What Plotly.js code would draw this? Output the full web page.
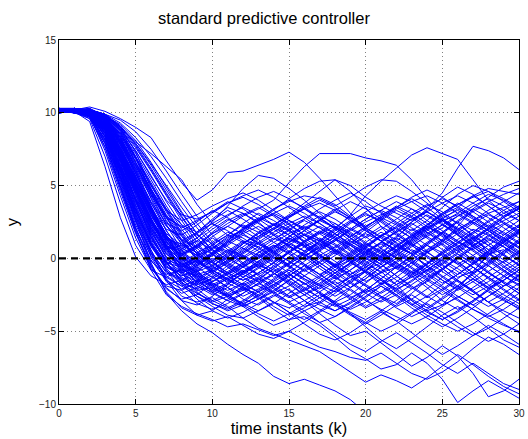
<!DOCTYPE html>
<html>
<head>
<meta charset="utf-8">
<script src="https://cdn.plot.ly/plotly-3.0.1.min.js"></script>
<style>html,body{margin:0;padding:0;background:#fff}#chart{width:528px;height:439px}</style>
</head>
<body>
<div id="chart"></div>
<script>
// time instants
const k = [0,1,2,3,4,5,6,7,8,9,10,11,12,13,14,15,16,17,18,19,20,21,22,23,24,25,26,27,28,29,30];
// reference level
const refX = [0, 30];
const refY = [0, 0];
const xTicks = [0,5,10,15,20,25,30];
const yTicks = [-10,-5,0,5,10,15];

// trajectories that climb high after the transient
const upperRuns = [
 [10.1,10.2,10.0,9.2,7.0,4.6,2.4,0.9,0.3,0.8,1.7,2.2,2.9,3.4,4.0,5.2,6.3,7.2,7.2,7.2,6.9,6.7,6.4,5.4,4.1,2.8,1.6,0.9,1.5,2.3,2.9],
 [10.2,10.3,9.9,8.8,6.1,3.3,1.0,-0.6,-1.2,-0.9,-0.1,0.6,0.2,-0.5,-0.9,-0.3,0.5,1.2,2.0,3.0,4.3,5.3,6.2,7.1,7.6,7.2,6.8,5.4,4.0,3.1,2.6],
 [10.0,10.1,10.2,9.5,7.3,4.8,2.5,0.7,-0.5,-1.1,-0.8,0.1,1.0,1.8,2.4,2.0,1.1,0.2,-0.6,-1.3,-0.9,0.2,1.4,2.5,3.4,4.5,6.2,7.7,7.4,6.9,6.1],
 [10.3,10.2,10.4,10.1,9.6,9.0,8.3,6.7,5.2,4.0,4.7,5.9,6.0,6.4,6.8,7.3,6.6,5.5,4.3,3.1,2.0,1.2,0.6,1.3,2.2,3.0,2.4,1.5,0.4,-0.5,-1.2],
 [10.1,10.3,10.2,9.9,9.0,8.0,7.2,6.3,5.4,3.7,2.4,1.6,1.1,1.5,2.3,3.0,3.8,4.6,5.4,5.0,4.2,3.6,3.1,2.6,3.3,4.2,4.9,4.4,3.6,2.9,3.4],
 [10.2,10.0,10.1,9.3,7.2,4.9,2.6,1.0,0.6,1.4,2.5,3.6,4.8,5.7,5.5,4.8,4.0,3.1,2.2,1.4,0.6,0.1,-0.5,-1.1,-0.4,0.5,1.3,2.0,1.6,0.8,0.2],
 [10.0,10.2,10.1,9.7,8.3,5.9,3.4,1.3,0.1,-0.4,0.2,1.1,1.9,2.6,3.3,4.1,4.8,5.3,5.4,4.6,3.5,2.2,1.0,0.3,-0.6,-1.5,-2.1,-1.4,-0.5,0.3,1.1],
 [10.3,10.1,10.2,9.0,6.4,3.6,1.2,-0.4,-1.0,-0.6,0.3,1.2,2.0,2.7,3.4,3.9,4.3,4.1,3.6,4.2,4.9,5.4,5.3,4.6,3.8,3.0,3.5,4.3,4.8,4.6,4.4],
 [10.1,10.2,9.8,8.2,5.3,2.3,0.2,-1.3,-1.9,-1.5,-0.6,0.4,1.1,0.8,0.1,-0.4,0.3,1.2,2.1,2.9,3.6,3.2,2.5,1.9,2.6,3.5,4.4,5.0,4.6,3.9,3.2],
 [10.2,10.3,10.1,9.6,8.2,5.9,3.5,1.6,0.4,0.9,1.8,2.6,3.1,2.5,1.6,0.8,0.2,0.7,1.5,2.4,3.0,2.6,1.8,1.0,0.4,1.1,2.2,3.4,4.2,4.9,5.3],
 [10.2,10.3,10.1,9.3,7.1,4.5,2.0,0.6,0.9,1.7,2.4,3.0,3.5,3.0,2.3,2.9,3.6,4.2,3.7,2.9,2.2,2.8,3.5,4.1,3.5,2.7,2.0,2.6,3.3,3.9,4.5],
 [10.1,10.0,10.2,9.9,8.9,7.0,4.6,2.5,1.2,1.8,2.6,3.3,2.7,2.0,1.3,1.9,2.7,3.4,4.0,4.5,3.9,3.1,2.4,1.7,2.3,3.0,3.7,4.3,3.6,2.8,2.1],
 [10.3,10.2,10.0,8.7,6.0,3.1,0.9,-0.4,0.2,0.9,1.7,2.4,3.0,3.5,2.9,2.1,1.4,0.7,1.3,2.0,2.7,3.3,3.9,3.4,2.6,1.9,1.2,0.6,1.2,1.9,2.6],
 [10.2,10.1,10.2,9.6,8.0,5.7,3.3,1.5,0.7,1.2,0.6,-0.1,0.5,1.3,2.0,2.8,3.4,2.8,2.0,1.2,0.5,-0.1,0.6,1.4,2.3,3.1,3.8,3.2,2.5,1.7,1.0]
];

// trajectories that drift low
const lowerRuns = [
 [10.1,10.3,10.0,8.4,5.6,2.6,-0.3,-2.4,-3.6,-4.5,-5.1,-5.9,-6.6,-7.2,-8.1,-8.6,-8.3,-8.7,-9.1,-9.7,-10.6,-11.3,-11.0,-11.8,-12.1,-11.6,-12.4,-12.9,-12.5,-13.1,-13.4],
 [10.2,10.0,9.8,7.9,4.9,1.9,-0.8,-2.5,-3.3,-3.8,-4.2,-4.7,-4.5,-4.9,-5.3,-5.0,-5.6,-6.1,-6.4,-6.8,-7.0,-6.5,-7.2,-7.9,-8.3,-7.8,-7.1,-6.2,-5.4,-5.9,-6.6],
 [10.1,10.0,10.2,8.9,6.0,3.0,0.6,-1.4,-2.6,-3.0,-2.7,-3.3,-4.1,-4.8,-5.2,-5.6,-6.0,-6.4,-7.1,-7.8,-8.5,-8.0,-8.4,-8.9,-8.2,-7.4,-6.6,-7.3,-8.1,-8.8,-9.3],
 [10.3,10.2,10.0,9.1,6.8,4.0,1.5,-0.3,-1.5,-2.2,-2.0,-1.4,-1.9,-2.7,-3.5,-4.2,-4.0,-4.6,-5.4,-6.3,-6.9,-7.6,-7.3,-6.5,-7.2,-8.3,-9.9,-9.1,-8.4,-9.0,-9.6],
 [10.2,10.1,10.3,9.4,7.1,4.4,1.9,0.0,-1.1,-1.6,-1.2,-2.0,-2.8,-3.2,-2.6,-2.1,-2.9,-3.8,-4.6,-5.3,-5.0,-5.8,-6.6,-7.4,-6.8,-6.0,-6.7,-7.9,-9.5,-9.1,-8.3],
 [10.0,10.2,9.7,7.6,4.6,1.7,-0.6,-2.1,-2.8,-2.5,-1.7,-2.4,-3.3,-4.0,-4.6,-4.2,-3.6,-4.4,-5.2,-5.9,-6.4,-5.7,-5.1,-5.8,-6.5,-7.3,-7.9,-7.2,-7.9,-8.6,-9.0],
 [10.2,10.3,10.0,8.6,5.8,2.9,0.4,-1.5,-2.9,-3.9,-4.3,-4.0,-4.6,-5.2,-5.5,-5.0,-4.4,-3.7,-3.1,-3.8,-4.7,-5.6,-6.2,-5.5,-4.7,-3.9,-3.3,-4.0,-4.8,-5.6,-6.1],
 [10.1,10.2,10.1,9.2,6.9,4.1,1.6,-0.2,-1.6,-2.6,-3.3,-3.9,-4.1,-3.6,-3.0,-3.7,-4.5,-5.2,-5.6,-5.1,-4.4,-3.7,-4.3,-5.1,-5.9,-6.6,-6.0,-5.3,-4.6,-5.2,-5.9],
 [10.0,10.1,10.0,8.6,5.7,2.8,0.5,-1.0,-1.5,-1.1,-1.8,-2.5,-3.1,-3.6,-3.1,-2.4,-1.7,-2.4,-3.2,-3.9,-4.5,-3.9,-3.2,-2.5,-3.2,-4.0,-4.7,-5.3,-4.8,-4.1,-3.4],
 [10.3,10.1,9.9,8.4,5.5,2.6,0.3,-1.2,-1.9,-2.6,-3.1,-3.5,-3.0,-2.3,-1.6,-2.2,-2.9,-3.5,-4.0,-3.4,-2.7,-1.9,-2.6,-3.4,-4.1,-4.7,-4.1,-3.4,-2.6,-1.9,-1.2],
 [10.2,10.3,10.0,8.8,6.2,3.3,0.9,-0.8,-1.8,-2.4,-2.9,-2.4,-1.7,-2.3,-3.0,-3.7,-4.2,-3.6,-2.9,-2.1,-2.8,-3.6,-4.3,-3.7,-3.0,-2.2,-1.5,-2.2,-3.0,-3.8,-4.5]
];

// trajectories that stay near the reference
const middleRuns = [
 [10.2,10.1,9.4,6.3,2.8,0.1,-1.2,-1.8,-1.5,-0.8,-0.2,0.5,1.2,1.0,0.3,-0.6,-1.4,-1.9,-1.2,-0.3,0.8,1.6,2.1,1.4,0.5,-0.4,-1.3,-0.9,0.2,1.1,1.8],
 [10.3,10.2,9.9,8.1,5.2,2.1,-0.4,-2.3,-3.4,-3.9,-3.6,-2.8,-1.9,-1.4,-1.8,-2.6,-3.3,-3.0,-2.2,-1.1,-0.4,-0.9,-1.8,-2.9,-3.6,-3.2,-2.1,-0.9,0.3,0.6,-0.2],
 [10.2,10.1,9.6,7.0,3.8,0.9,-0.8,-1.3,-0.7,0.2,0.9,0.5,-0.3,-1.1,-1.6,-1.0,-0.2,0.6,1.3,0.9,0.1,-0.7,-1.5,-2.1,-1.6,-0.8,0.1,0.9,1.4,0.8,-0.1],
 [10.3,10.2,10.0,8.0,5.0,2.0,-0.2,-1.1,-0.8,-0.1,0.7,1.5,1.9,1.3,0.4,-0.5,-1.2,-1.8,-2.3,-1.7,-0.9,0.0,0.8,1.6,2.2,1.7,0.8,-0.2,-1.0,-1.6,-2.2],
 [10.1,10.3,10.1,8.9,6.1,3.2,1.0,-0.3,-0.6,-0.2,-0.9,-1.7,-2.2,-1.8,-1.1,-0.3,0.4,1.0,0.6,-0.2,-1.0,-1.8,-1.3,-0.5,0.4,1.2,1.9,2.5,1.9,1.1,0.4],
 [10.0,10.1,10.2,9.5,7.7,5.0,2.3,0.5,-0.4,-0.9,-0.5,0.2,1.0,1.7,2.3,1.9,1.1,0.3,-0.5,-1.2,-1.9,-2.6,-3.1,-2.4,-1.5,-0.7,0.1,-0.6,-1.4,-2.2,-2.9],
 [10.2,10.0,9.9,8.5,5.6,2.7,0.4,-0.9,-1.4,-1.9,-2.3,-1.8,-1.0,-0.2,0.5,1.1,1.6,1.2,0.4,-0.3,0.3,1.1,1.9,2.7,3.2,2.6,1.7,0.8,0.0,-0.8,-1.5],
 [10.3,10.2,10.1,9.2,6.6,3.7,1.3,-0.1,-0.5,0.1,0.8,0.4,-0.4,-1.2,-2.0,-2.6,-2.1,-1.3,-0.6,0.2,0.9,1.6,1.1,0.3,-0.5,-1.3,-2.0,-2.7,-3.3,-2.8,-2.0],
 [10.1,10.2,10.3,9.8,8.7,6.6,4.1,1.9,0.5,-0.3,-0.7,-0.2,0.6,1.4,2.0,2.6,2.1,1.3,0.6,-0.1,-0.8,-0.3,0.5,1.3,2.1,2.8,3.3,2.7,1.9,1.2,0.5],
 [10.2,10.3,10.0,8.3,5.4,2.5,0.1,-1.6,-2.4,-2.0,-1.3,-0.5,0.2,-0.3,-1.0,-1.7,-2.5,-3.2,-3.6,-3.0,-2.2,-1.4,-0.6,-1.2,-2.0,-2.9,-3.5,-2.9,-2.1,-1.3,-0.6],
 [10.0,10.2,10.1,9.4,7.5,4.9,2.6,0.8,-0.2,0.3,1.1,1.8,1.4,0.7,0.0,-0.6,0.1,0.9,1.7,2.5,3.1,2.5,1.7,0.9,0.2,-0.5,-1.1,-0.4,0.5,1.4,2.2],
 [10.3,10.1,10.2,9.6,7.9,5.5,3.0,1.1,0.0,-0.6,-1.3,-2.0,-2.6,-2.1,-1.4,-0.8,-1.5,-2.3,-3.0,-2.5,-1.7,-0.9,-0.2,0.6,0.1,-0.7,-1.5,-2.3,-3.0,-3.6,-4.1],
 [10.2,10.2,10.0,9.0,6.5,3.5,1.0,-0.7,-1.7,-2.1,-1.6,-0.9,-0.3,0.4,0.9,0.4,-0.4,-1.1,-0.5,0.3,1.0,0.5,-0.3,-1.0,-1.8,-2.5,-1.9,-1.1,-0.3,0.5,1.3],
 [10.1,10.0,10.2,9.7,8.4,6.1,3.6,1.5,0.3,-0.2,0.4,1.2,2.1,2.8,2.3,1.6,0.8,0.1,-0.6,-0.1,0.7,1.5,2.4,3.1,3.7,3.2,2.4,1.6,0.9,0.2,-0.4],
 [10.3,10.3,9.8,7.4,4.3,1.4,-0.7,-1.9,-2.2,-1.6,-0.8,-1.4,-2.1,-2.8,-2.3,-1.5,-0.7,0.0,0.6,0.1,-0.6,-1.4,-2.1,-2.8,-3.4,-2.7,-1.9,-1.0,-0.2,0.5,1.2],
 [10.0,10.1,10.0,8.7,5.9,3.0,0.8,-0.6,-1.0,-0.5,0.3,1.1,1.7,2.2,1.6,0.9,0.2,-0.5,-1.3,-2.0,-1.4,-0.6,0.2,0.9,1.5,0.9,0.1,-0.6,-1.3,-1.9,-1.4],
 [10.2,10.1,10.1,9.3,7.0,4.3,1.8,0.1,-0.8,-1.2,-1.9,-2.7,-3.3,-2.8,-2.0,-1.2,-0.5,-1.1,-1.8,-2.6,-3.3,-2.7,-2.0,-1.2,-0.4,0.3,-0.3,-1.0,-1.8,-2.5,-3.1],
 [10.1,10.3,10.2,9.9,9.0,7.3,4.8,2.6,1.0,0.2,0.6,1.3,2.0,2.6,3.0,2.4,1.6,0.9,0.3,1.0,1.8,2.6,3.3,2.8,2.0,1.2,0.5,1.2,2.0,2.8,3.5],
 [10.2,10.0,9.7,7.7,4.8,1.8,-0.5,-2.0,-2.9,-3.2,-2.6,-1.8,-1.0,-0.4,-1.0,-1.8,-2.5,-2.0,-1.3,-0.5,0.2,-0.4,-1.2,-2.0,-2.7,-2.1,-1.4,-0.6,-1.3,-2.1,-2.8],
 [10.3,10.2,10.2,9.5,7.4,4.7,2.2,0.4,-0.7,-1.3,-0.9,-0.1,0.7,0.2,-0.5,-1.3,-2.1,-2.7,-2.2,-1.5,-0.8,-1.5,-2.3,-3.1,-3.7,-4.2,-3.6,-2.9,-2.2,-2.8,-3.5],
 [10.0,10.2,10.1,9.1,6.7,3.9,1.4,-0.2,-0.9,-0.4,0.4,1.2,0.7,0.0,0.7,1.5,2.3,2.9,2.4,1.6,0.8,0.1,-0.6,0.1,0.9,1.7,2.5,3.2,3.8,3.3,2.6],
 [10.1,10.1,10.3,9.7,8.1,5.7,3.2,1.3,0.2,0.7,1.4,0.8,0.1,-0.6,-1.3,-0.7,0.1,0.8,1.5,2.1,1.5,0.7,0.0,-0.7,-1.4,-0.8,0.0,0.8,1.6,1.0,0.3],
 [10.3,10.0,10.1,9.4,7.2,4.6,2.1,0.3,-0.6,-0.1,-0.8,-1.5,-0.9,-0.2,0.6,1.3,0.8,0.0,-0.8,-1.6,-2.3,-1.8,-1.0,-0.3,0.5,1.3,0.7,-0.1,-0.9,-1.7,-2.4],
 [10.2,10.2,9.9,7.9,5.0,2.1,-0.1,-1.5,-2.1,-1.7,-1.0,-0.3,-0.9,-1.6,-2.4,-3.0,-2.5,-1.8,-1.0,-0.3,-0.9,-1.7,-2.5,-3.2,-2.6,-1.8,-1.1,-0.3,0.5,1.2,1.9],
 [10.1,10.3,10.2,9.8,8.8,6.9,4.4,2.3,1.0,0.4,-0.3,-1.0,-1.5,-1.0,-0.3,0.5,1.2,1.8,1.3,0.5,-0.3,0.4,1.2,2.0,1.4,0.6,-0.2,-1.0,-0.4,0.4,1.1],
 [10.2,10.1,10.2,9.2,6.8,4.0,1.5,-0.3,-1.3,-1.8,-1.4,-0.7,0.1,0.8,1.4,0.9,0.1,-0.7,-1.4,-0.8,0.0,0.7,1.4,0.9,0.1,-0.7,-1.5,-2.2,-1.6,-0.9,-0.2],
 [10.3,10.2,10.1,9.6,7.8,5.2,2.7,0.9,0.0,-0.5,0.2,0.9,1.6,1.1,0.4,1.1,1.9,2.6,3.2,2.7,1.9,1.2,0.5,1.2,2.0,2.7,2.1,1.4,0.6,-0.1,-0.8],
 [10.1,10.2,10.2,9.0,6.3,3.4,1.1,-0.5,-1.2,-0.7,0.0,-0.6,-1.3,-0.7,0.0,0.8,0.3,-0.5,-1.2,-2.0,-1.4,-0.6,0.2,1.0,1.7,2.3,1.8,1.0,0.2,0.9,1.7],
 [10.2,10.0,10.1,9.5,7.6,5.1,2.5,0.7,-0.4,-1.0,-1.6,-1.1,-0.4,0.3,-0.3,-1.0,-1.8,-1.2,-0.4,0.4,1.1,1.8,1.3,0.5,-0.2,-0.9,-1.6,-2.3,-3.0,-2.4,-1.7]
];

// trajectories with a later, more gradual transient
const lateRuns = [
 [10.2,10.3,10.1,9.7,8.9,7.6,6.0,4.3,2.6,1.1,-0.2,-1.2,-1.8,-1.3,-0.5,0.4,1.2,1.9,1.4,0.6,-0.2,-1.0,-0.6,0.2,1.0,1.8,2.5,1.9,1.1,0.3,-0.5],
 [10.1,10.2,10.0,9.3,7.9,6.1,4.2,2.3,0.6,-0.8,-1.9,-2.6,-2.2,-1.5,-0.7,0.1,-0.5,-1.3,-2.0,-2.7,-2.2,-1.4,-0.6,0.2,0.9,0.4,-0.4,-1.2,-2.0,-1.5,-0.8],
 [10.3,10.1,9.8,8.6,6.7,4.6,2.5,0.6,-1.0,-2.3,-3.1,-3.6,-3.2,-2.5,-1.8,-1.1,-1.7,-2.4,-3.1,-3.7,-4.2,-3.6,-2.9,-2.1,-1.4,-2.0,-2.8,-3.5,-4.1,-4.6,-5.0],
 [10.0,10.2,10.1,9.8,9.2,8.1,6.6,4.9,3.2,1.7,0.5,-0.4,-1.0,-0.5,0.2,0.9,1.6,2.2,1.7,0.9,0.2,0.8,1.5,2.3,3.0,2.4,1.6,0.8,0.1,-0.6,-1.3],
 [10.2,10.0,9.6,7.9,5.6,3.3,1.1,-0.8,-2.2,-3.1,-3.5,-3.1,-2.4,-1.7,-2.3,-3.0,-3.6,-3.1,-2.4,-1.6,-0.9,-1.5,-2.2,-2.9,-3.6,-4.2,-3.7,-3.0,-2.2,-1.5,-0.8],
 [10.1,10.3,10.2,9.4,8.0,6.3,4.5,2.8,1.2,-0.1,-1.1,-1.6,-1.1,-0.4,0.3,1.0,0.5,-0.3,-1.0,-0.4,0.4,1.1,1.8,2.4,1.8,1.0,0.3,-0.4,0.3,1.1,1.8],
 [10.3,10.2,10.0,9.0,7.2,5.2,3.2,1.4,-0.1,-1.3,-2.1,-2.5,-2.0,-2.6,-3.3,-3.9,-3.4,-2.7,-2.0,-1.3,-1.9,-2.6,-3.3,-2.8,-2.1,-1.3,-0.6,0.1,-0.5,-1.2,-1.9],
 [10.0,10.1,10.2,9.9,9.5,8.7,7.5,6.0,4.4,2.9,1.6,0.6,0.0,0.6,1.3,2.0,2.6,2.1,1.4,0.7,0.0,-0.6,0.0,0.8,1.6,2.3,2.9,3.4,2.8,2.1,1.4],
 [10.2,10.1,9.9,8.9,7.0,4.8,2.7,0.8,-0.8,-1.9,-2.5,-2.0,-1.3,-0.6,0.1,-0.5,-1.2,-1.9,-2.6,-2.0,-1.2,-0.4,0.3,-0.3,-1.1,-1.9,-2.6,-3.2,-2.6,-1.9,-1.1],
 [10.1,10.2,10.1,9.6,8.5,6.9,5.1,3.3,1.7,0.3,-0.8,-1.4,-0.9,-0.2,-0.8,-1.5,-2.2,-1.7,-1.0,-0.3,0.4,1.0,0.4,-0.3,-1.0,-1.7,-1.1,-0.4,0.4,1.1,1.8],
 [10.3,10.3,10.0,8.8,6.9,4.8,2.7,0.9,-0.6,-1.6,-2.2,-1.7,-1.0,-0.3,0.4,1.1,1.7,1.2,0.5,-0.2,-0.9,-1.5,-2.1,-1.6,-0.8,0.0,0.7,1.4,2.0,1.4,0.7],
 [10.0,10.2,10.2,9.9,9.1,7.8,6.2,4.5,2.9,1.4,0.3,-0.5,-1.1,-1.6,-1.1,-0.4,0.3,-0.3,-1.0,-1.7,-2.4,-3.0,-2.5,-1.8,-1.1,-0.4,0.3,-0.3,-1.0,-1.7,-2.4],
 [10.2,10.1,10.0,9.1,7.4,5.5,3.5,1.6,0.0,-1.2,-2.0,-2.6,-3.1,-2.6,-1.9,-1.2,-0.5,0.2,-0.4,-1.1,-1.8,-2.4,-1.8,-1.1,-0.4,0.4,1.1,0.6,-0.1,-0.8,-1.5],
 [10.1,10.3,10.1,9.5,8.3,6.6,4.8,3.0,1.5,0.3,-0.5,0.1,0.8,1.5,2.1,1.6,0.9,0.2,0.8,1.5,2.2,2.8,2.3,1.6,0.9,0.2,-0.4,0.2,0.9,1.6,2.3],
 [10.2,10.2,9.7,8.2,6.0,3.8,1.7,-0.2,-1.7,-2.8,-3.6,-4.1,-3.7,-3.1,-2.5,-3.1,-3.8,-4.4,-4.0,-3.3,-2.6,-1.9,-2.5,-3.2,-3.9,-4.5,-5.0,-4.5,-3.8,-3.1,-2.4],
 [10.3,10.1,10.2,9.7,8.7,7.2,5.4,3.6,2.0,0.7,-0.3,-1.0,-0.5,0.2,0.9,0.3,-0.4,-1.1,-1.8,-1.3,-0.6,0.1,0.8,0.3,-0.5,-1.2,-1.9,-2.5,-1.9,-1.2,-0.4],
 [10.0,10.2,10.0,9.2,7.6,5.6,3.5,1.6,0.0,-1.1,-1.8,-1.3,-0.6,0.1,0.8,1.5,2.1,2.6,2.1,1.4,0.7,0.0,-0.7,-1.3,-0.8,-0.1,0.6,1.3,2.0,2.6,3.1],
 [10.2,10.3,10.2,9.8,9.0,7.7,6.1,4.4,2.8,1.4,0.3,-0.6,-1.3,-1.9,-2.4,-1.9,-1.2,-0.5,0.2,0.9,0.3,-0.4,-1.2,-1.9,-2.6,-3.2,-2.7,-2.0,-1.3,-0.6,0.1],
 [10.1,10.0,9.8,8.7,6.8,4.7,2.6,0.7,-0.9,-2.1,-2.9,-3.4,-2.9,-2.2,-1.5,-0.8,-1.4,-2.1,-1.5,-0.8,-0.1,0.6,0.1,-0.6,-1.3,-0.7,0.0,0.7,1.3,0.8,0.1],
 [10.3,10.2,10.1,9.4,8.1,6.4,4.6,2.8,1.2,-0.1,-1.0,-1.5,-2.0,-2.5,-3.0,-3.4,-2.9,-2.3,-1.6,-2.2,-2.9,-3.5,-4.0,-4.5,-4.0,-3.3,-2.6,-3.2,-3.9,-4.5,-5.1],
 [10.2,10.1,10.2,9.9,9.3,8.3,7.0,5.5,3.9,2.4,1.1,0.1,-0.6,0.0,0.7,1.4,0.9,0.2,-0.5,0.1,0.8,1.5,2.1,2.7,3.2,2.6,1.9,1.1,0.4,-0.3,-1.0],
 [10.0,10.1,9.9,8.9,7.2,5.2,3.1,1.2,-0.3,-1.4,-1.9,-1.4,-0.8,-1.4,-2.1,-2.7,-2.2,-1.5,-0.8,-0.1,0.5,1.1,0.6,-0.1,-0.8,-1.5,-2.2,-1.6,-0.9,-0.2,0.5],
 [10.3,10.2,10.0,9.3,7.8,5.9,3.8,1.9,0.3,-0.9,-1.7,-2.2,-1.7,-1.0,-0.3,0.4,1.0,0.5,-0.2,-0.9,-1.6,-1.0,-0.3,0.4,1.1,1.8,1.2,0.5,-0.2,-0.9,-1.6],
 [10.1,10.2,10.1,9.6,8.6,7.0,5.2,3.4,1.8,0.5,-0.5,-1.2,-1.8,-2.3,-1.8,-1.1,-1.7,-2.4,-3.0,-3.5,-3.0,-2.3,-1.6,-0.9,-1.5,-2.2,-2.9,-3.5,-4.0,-3.5,-2.8],
 [10.2,10.3,10.1,9.2,7.5,5.5,3.4,1.5,0.0,-1.0,-1.6,-1.0,-0.3,0.4,1.1,1.7,2.2,1.7,1.0,0.3,-0.4,0.2,0.9,1.6,2.2,1.6,0.9,0.2,-0.5,-1.2,-1.8],
 [10.0,10.2,10.2,9.8,9.0,7.9,6.5,5.0,3.5,2.1,0.9,0.0,-0.6,-1.1,-0.6,0.1,0.8,1.4,0.9,0.2,-0.5,-1.2,-1.8,-1.3,-0.6,0.1,0.8,1.5,0.9,0.2,-0.5],
 [10.3,10.1,9.9,8.4,6.3,4.1,2.0,0.1,-1.4,-2.4,-3.0,-2.6,-3.2,-3.8,-4.3,-3.8,-3.2,-2.5,-3.1,-3.8,-4.4,-5.0,-4.5,-3.8,-3.1,-3.7,-4.4,-5.1,-5.7,-5.2,-4.5],
 [10.1,10.1,10.2,9.5,8.2,6.5,4.7,2.9,1.3,0.0,-0.9,-0.3,0.4,1.1,0.5,-0.2,-0.9,-0.3,0.4,1.1,1.7,1.2,0.5,-0.2,-0.9,-0.3,0.4,1.1,1.8,2.4,1.8],
 [10.2,10.0,9.8,8.8,7.0,4.9,2.8,0.9,-0.6,-1.7,-2.4,-2.9,-2.4,-1.7,-1.0,-1.6,-2.3,-3.0,-3.6,-3.1,-2.4,-1.7,-1.0,-0.3,0.4,-0.2,-0.9,-1.6,-2.3,-2.9,-3.4],
 [10.3,10.2,10.1,9.7,8.8,7.4,5.7,3.9,2.3,0.9,-0.2,-1.0,-1.5,-1.0,-0.3,0.4,1.1,1.7,2.2,1.7,1.0,0.3,-0.4,-1.0,-0.4,0.3,1.0,1.7,2.3,1.8,1.1],
 [10.1,10.3,10.0,9.1,7.3,5.2,3.1,1.2,-0.4,-1.5,-2.2,-2.6,-2.1,-1.4,-0.7,-1.3,-2.0,-2.7,-3.3,-2.8,-2.1,-2.7,-3.4,-4.0,-3.5,-2.8,-2.1,-1.4,-2.0,-2.7,-3.3],
 [10.2,10.1,10.1,9.6,8.4,6.8,5.0,3.2,1.6,0.3,-0.6,-1.1,-0.6,0.1,0.8,1.4,0.9,0.2,-0.5,-1.1,-0.6,0.1,0.8,1.5,2.1,2.6,3.0,2.4,1.7,1.0,0.3],
 [10.0,10.1,10.0,9.0,7.3,5.3,3.3,1.4,-0.2,-1.4,-2.3,-2.9,-3.3,-2.8,-2.2,-1.5,-0.8,-1.4,-2.1,-2.8,-3.4,-2.9,-2.2,-1.5,-0.8,-0.1,-0.7,-1.4,-2.1,-1.5,-0.8],
 [10.3,10.2,10.2,9.8,9.1,7.9,6.4,4.7,3.1,1.7,0.6,-0.2,0.4,1.1,1.8,2.4,2.9,2.4,1.7,1.0,0.4,-0.2,0.4,1.1,1.8,1.2,0.5,-0.2,0.5,1.2,1.9]
];

// trajectories that settle slightly above the reference
const raisedRuns = [
 [10.2,10.1,10.2,9.4,7.6,5.4,3.4,2.0,1.6,2.3,3.1,3.8,4.2,3.7,3.0,2.3,1.6,1.0,1.7,2.5,3.2,3.8,4.3,3.9,3.2,2.5,3.1,3.8,4.4,4.0,3.4],
 [10.3,10.2,10.0,9.0,6.9,4.6,2.6,1.3,1.0,1.8,2.7,3.5,3.1,2.4,1.7,1.1,0.5,1.1,1.9,2.6,2.1,1.4,0.8,1.5,2.3,3.1,3.7,4.2,4.6,4.1,3.5],
 [10.1,10.3,10.1,9.7,8.5,6.6,4.7,3.3,2.6,3.0,3.6,4.1,4.5,4.0,3.3,2.6,2.0,2.6,3.3,3.9,3.4,2.7,2.0,1.4,2.0,2.7,3.4,2.9,2.2,1.6,2.3],
 [10.0,10.2,10.1,9.2,7.3,5.1,3.0,1.5,0.8,1.4,2.2,2.9,3.6,4.2,4.6,4.1,3.4,2.7,2.1,1.5,2.1,2.9,3.6,3.1,2.4,1.7,1.1,1.8,2.6,3.3,3.9],
 [10.2,10.1,10.0,9.5,8.0,6.0,3.9,2.4,1.9,2.5,3.3,2.8,2.1,2.7,3.4,4.0,3.5,2.8,2.1,1.4,0.8,1.5,2.2,2.9,3.6,4.1,3.6,2.9,2.2,2.9,3.6],
 [10.3,10.1,10.2,9.8,8.9,7.4,5.6,4.0,3.0,2.7,3.2,3.9,3.4,2.7,2.0,1.3,1.9,2.7,3.4,2.8,2.1,1.5,0.9,0.3,1.0,1.8,2.6,3.3,3.9,4.4,4.8],
 [10.1,10.2,9.9,8.6,6.4,4.1,2.1,0.8,0.5,1.2,2.0,2.7,2.2,1.5,2.1,2.8,3.5,4.0,3.5,2.8,2.2,2.8,3.5,4.2,4.7,4.2,3.5,2.8,2.1,1.4,0.8],
 [10.2,10.3,10.2,9.6,8.1,6.2,4.3,2.8,2.2,1.6,1.0,1.6,2.4,3.1,2.6,1.9,1.2,0.6,1.2,2.0,2.7,3.3,2.8,2.1,1.5,2.1,2.9,3.6,4.1,3.6,2.9],
 [10.0,10.1,10.1,9.3,7.5,5.4,3.3,1.7,0.9,0.4,0.9,1.6,2.3,1.8,1.1,0.5,-0.1,0.5,1.2,1.9,2.5,3.0,3.5,2.9,2.2,1.5,0.8,1.4,2.1,2.8,3.4],
 [10.3,10.2,10.0,9.1,7.1,4.8,2.7,1.1,0.2,-0.3,0.3,1.0,1.8,2.5,3.1,3.6,3.1,2.4,1.7,1.0,0.4,-0.2,0.5,1.2,1.9,2.6,2.0,1.3,0.6,1.3,2.0],
 [10.1,10.2,10.2,9.7,8.6,6.9,5.0,3.4,2.3,1.8,2.4,1.9,1.2,0.5,-0.2,0.4,1.1,1.8,2.4,1.8,1.1,0.4,-0.3,-0.9,-0.3,0.4,1.1,1.8,2.5,3.1,3.6],
 [10.2,10.0,9.8,8.4,6.2,3.9,1.8,0.3,-0.4,0.0,0.7,1.4,2.0,2.6,3.1,2.6,1.9,1.3,0.7,1.3,2.0,2.7,3.4,3.9,4.3,3.8,3.1,2.5,1.9,1.3,0.7],
 [10.3,10.3,10.1,9.5,7.9,5.9,3.8,2.2,1.3,0.8,0.3,-0.3,0.3,1.0,1.6,2.2,2.7,3.2,2.7,2.0,1.4,2.0,2.7,3.4,2.9,2.3,1.6,0.9,0.3,-0.3,0.4],
 [10.0,10.2,10.0,8.9,6.7,4.4,2.3,0.9,0.3,0.8,1.5,2.2,1.7,1.0,0.4,-0.2,-0.8,-0.2,0.5,1.2,0.6,-0.1,-0.7,-0.1,0.6,1.3,2.0,2.6,3.1,3.5,3.9],
 [10.2,10.1,10.1,9.6,8.3,6.4,4.4,2.9,2.1,2.6,3.2,3.8,4.3,4.7,4.2,3.5,2.8,2.1,1.5,0.9,1.5,2.2,1.6,1.0,0.4,1.0,1.7,2.4,3.0,2.5,1.9],
 [10.1,10.3,10.0,9.2,7.2,5.0,2.9,1.4,0.7,0.2,-0.3,0.3,1.0,1.7,2.3,2.9,3.4,3.8,3.3,2.6,1.9,1.2,1.8,2.5,3.2,3.8,4.3,3.8,3.1,2.4,1.7]
];

const traces = [];
[upperRuns, lowerRuns, middleRuns, lateRuns, raisedRuns].forEach(group => {
  group.forEach(run => {
    traces.push({x: k, y: run, type: 'scatter', mode: 'lines',
      line: {color: '#0000ff', width: 1}, hoverinfo: 'skip'});
  });
});
traces.push({x: refX, y: refY, type: 'scatter', mode: 'lines',
  line: {color: '#000000', width: 2.2, dash: '7px,5px'}, hoverinfo: 'skip'});

const fontFam = 'Liberation Sans, Arial, sans-serif';
const axisCommon = {
  showline: true, linecolor: '#000', linewidth: 1, mirror: 'ticks',
  ticks: 'inside', ticklen: 5, tickcolor: '#000',
  showgrid: true, gridcolor: '#808080', griddash: '1px,3px', gridwidth: 1,
  zeroline: false, tickfont: {family: fontFam, size: 10, color: '#222'},
  automargin: false
};

const layout = {
  width: 528, height: 439,
  margin: {l: 59, r: 9, t: 40, b: 35},
  paper_bgcolor: '#fff', plot_bgcolor: '#fff',
  showlegend: false, hovermode: false,
  title: {text: 'standard predictive controller', font: {family: fontFam, size: 16.5, color: '#000'},
    x: 0.5, xref: 'container', y: 1 - 18/439, yref: 'container', yanchor: 'middle'},
  xaxis: Object.assign({}, axisCommon, {range: [0, 30], tickvals: xTicks, ticktext: xTicks.map(String),
    title: {text: 'time instants (k)', font: {family: fontFam, size: 16.5, color: '#000'}, standoff: 4}}),
  yaxis: Object.assign({}, axisCommon, {range: [-10, 15], tickvals: yTicks, ticktext: yTicks.map(v => v < 0 ? '\u2212' + Math.abs(v) : String(v)),
    title: {text: 'y', font: {family: fontFam, size: 16.5, color: '#000'}, standoff: 16}})
};

Plotly.newPlot('chart', traces, layout, {displayModeBar: false, staticPlot: true});
</script>
</body>
</html>
